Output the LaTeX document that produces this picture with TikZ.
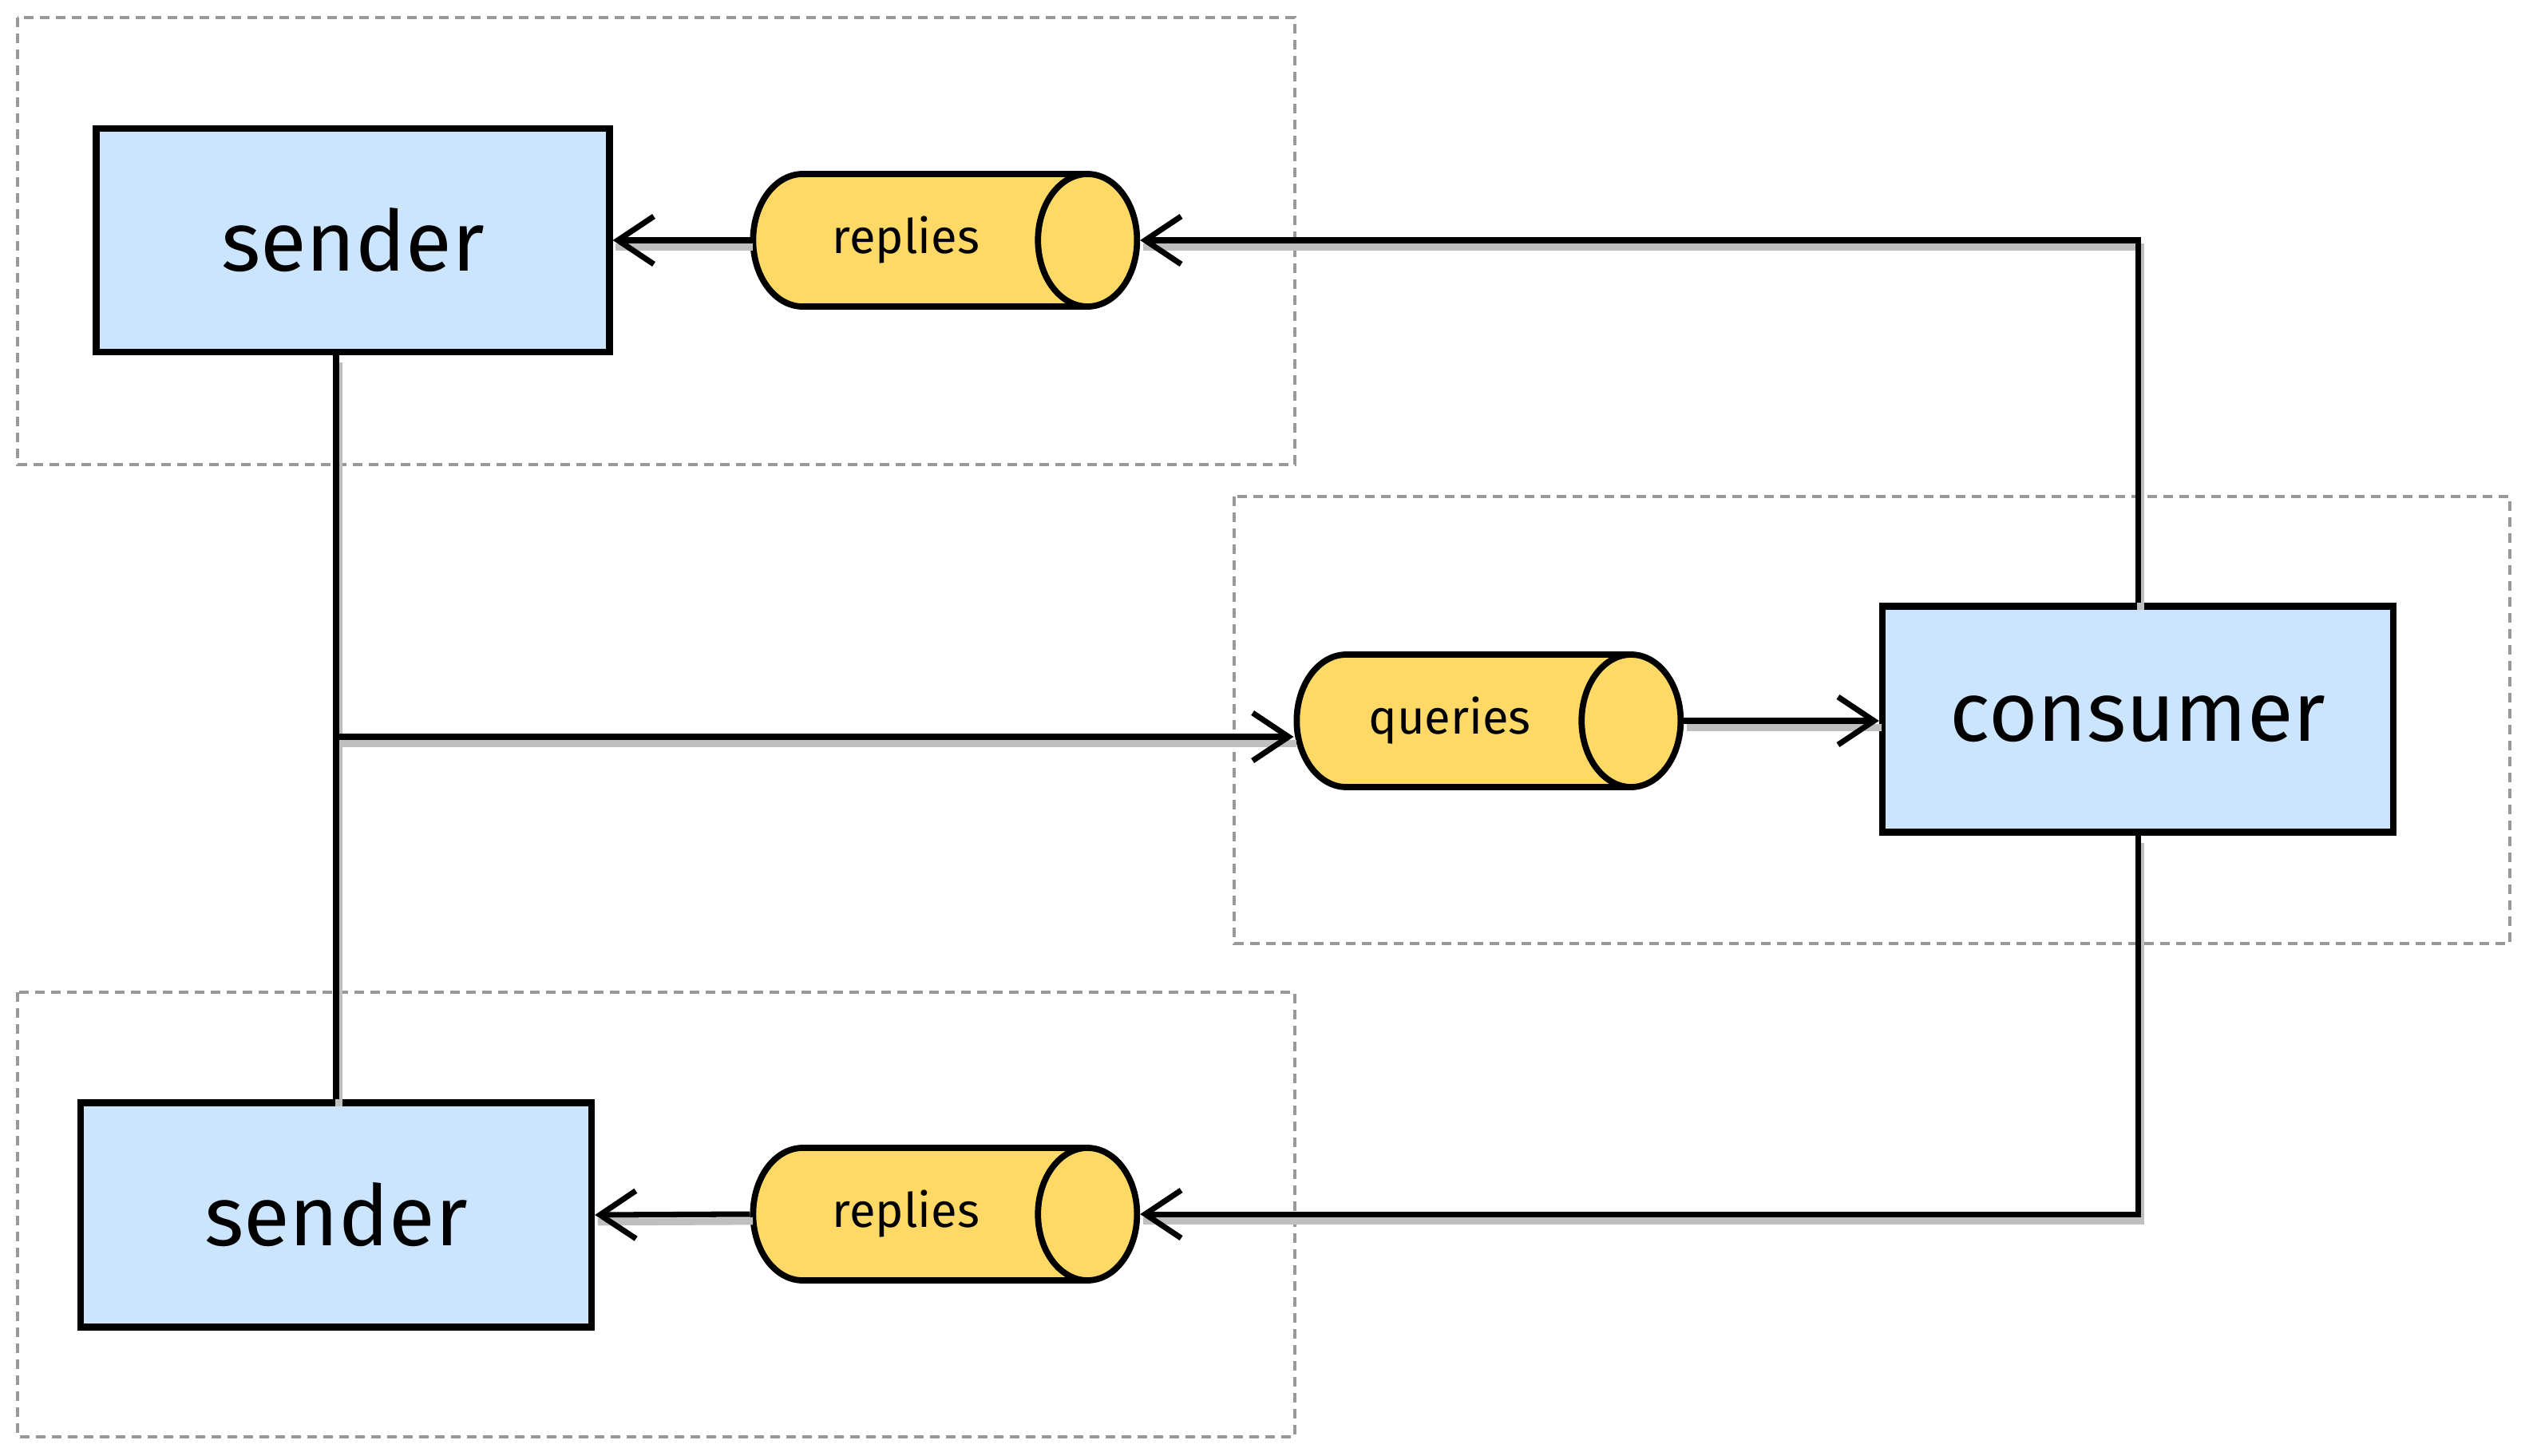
\documentclass[tikz,border=0pt]{standalone}
\usepackage{fontspec}
\setmainfont{Fira Sans}
\usetikzlibrary{shapes.geometric,arrows.meta}
\definecolor{boxblue}{HTML}{CCE5FF}
\definecolor{pipeyellow}{HTML}{FFD966}
\tikzset{
  sysbox/.style={draw, fill=boxblue, line width=2.4pt, font=\fontsize{30}{32}\selectfont},
  pipe/.style={cylinder, draw, fill=pipeyellow, line width=2.2pt, aspect=1.5,
    minimum height=4.81cm, minimum width=1.66cm, font=\fontsize{17}{19}\selectfont},
  shade/.style={preaction={draw=black!25, line width=2.6pt, arrows=-,
    transform canvas={xshift=1pt,yshift=-2.5pt}}},
  flow/.style={line width=2pt, shade, -{Straight Barb[length=4.5mm,width=6mm]}},
  group/.style={draw=black!40, line width=0.9pt, dash pattern=on 1.2mm off 0.8mm}
}
\begin{document}
\begin{tikzpicture}
    \useasboundingbox (0,0) rectangle (31.68,-18.24);
    % groups
    \draw [group] (0.22,-0.22) rectangle (16.22,-5.82);
    \draw [group] (15.46,-6.22) rectangle (31.44,-11.82);
    \draw [group] (0.22,-12.43) rectangle (16.22,-18.00);
    % nodes
    \node [sysbox, minimum width=6.43cm, minimum height=2.8cm] (sender1) at (4.42,-3.01) {sender};
    \node [sysbox, minimum width=6.4cm, minimum height=2.81cm] (sender2) at (4.21,-15.22) {sender};
    \node [sysbox, minimum width=6.4cm, minimum height=2.83cm] (consumer) at (26.78,-9.01) {consumer};
    \node [pipe] (replies1) at (11.35,-3.01) {replies};
    \node [pipe] (replies2) at (11.35,-15.21) {replies};
    \node [pipe] (queries) at (18.16,-9.03) {queries};
    % connectors
    \coordinate (split) at (sender2.north |- 0,-9.23);
    \draw [line width=2pt, shade] (sender2.north) -- (sender2.north |- sender1.south);
    \draw [flow] (split) -- (split -| queries.west);
    \draw [flow] (queries.east) -- (queries.east -| consumer.west);
    \draw [flow] (consumer.north) |- (replies1.east);
    \draw [flow] (consumer.south) |- (replies2.east);
    \draw [flow] (replies1.west) -- (sender1.east);
    \draw [flow] (replies2.west) -- (sender2.east);
\end{tikzpicture}
\end{document}
